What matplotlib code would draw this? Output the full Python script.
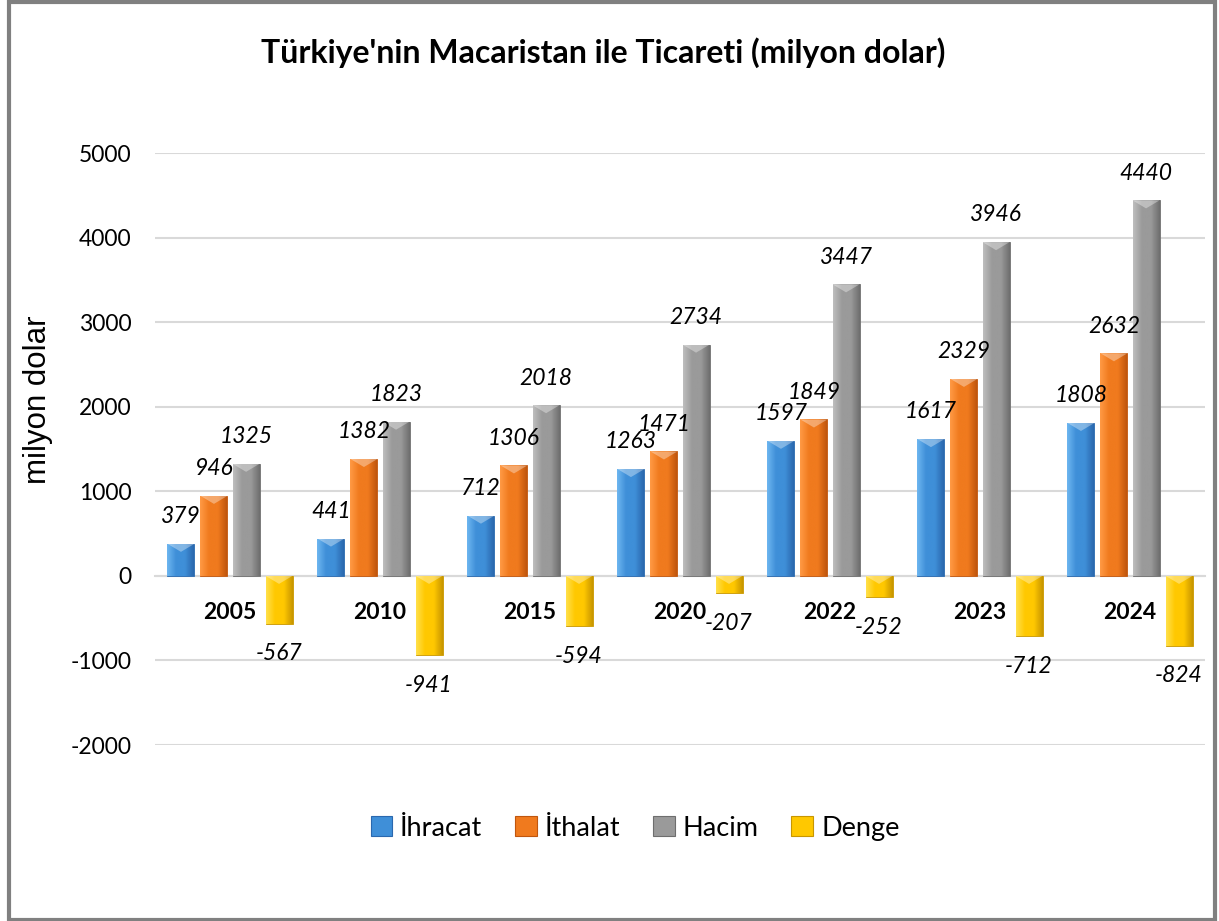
import numpy as np
import matplotlib.pyplot as plt
from matplotlib.colors import LinearSegmentedColormap
from matplotlib.patches import Polygon, Rectangle

# ─── Dados ───────────────────────────────────────────────────────────────────

yillar  = ['2005', '2010', '2015', '2020', '2022', '2023', '2024']
ihracat = [379, 441, 712, 1263, 1597, 1617, 1808]
ithalat = [946, 1382, 1306, 1471, 1849, 2329, 2632]
hacim   = [1325, 1823, 2018, 2734, 3447, 3946, 4440]
denge   = [-567, -941, -594, -207, -252, -712, -824]

seriler = ['İhracat', 'İthalat', 'Hacim', 'Denge']
# (açık, orta, koyu)
renkler = [('#6DB6F0', '#3F8FD8', '#2A68AE'),
           ('#FF9A45', '#F07A1E', '#C0560E'),
           ('#BEBEBE', '#9A9A9A', '#6E6E6E'),
           ('#FFE04A', '#FFC800', '#C89600')]

plt.rcParams['font.family'] = ['Lato', 'DejaVu Sans']
plt.rcParams['axes.unicode_minus'] = False

fig = plt.figure(figsize=(12.19, 9.21), dpi=100)
ax = fig.add_axes([155 / 1219, 1 - 745 / 921, 1050 / 1219, 592 / 921])

x = np.arange(len(yillar))
genislik = 0.18
ofsetler = [-0.327, -0.107, 0.107, 0.327]


def bevel_bar(ax, xc, h, renk):
    acik, orta, koyu = renk
    bar = ax.bar(xc, h, genislik, color=orta, edgecolor=koyu, linewidth=0.6, zorder=3)[0]
    cmap = LinearSegmentedColormap.from_list('g', [acik, orta, orta, koyu])
    grad = np.linspace(0, 1, 64).reshape(1, -1)
    im = ax.imshow(grad, extent=[xc - genislik / 2, xc + genislik / 2, min(0, h), max(0, h)],
                   aspect='auto', cmap=cmap, zorder=3.1)
    im.set_clip_path(bar)
    # üstteki açık renkli eğim (bevel)
    ust = max(0, h)
    d = min(95, abs(h))
    tri = Polygon([(xc - genislik / 2, ust), (xc + genislik / 2, ust), (xc, ust - d)],
                  closed=True, facecolor='white', alpha=0.35, edgecolor='none', zorder=3.2)
    ax.add_patch(tri)


for s, veri in enumerate([ihracat, ithalat, hacim, denge]):
    for i, v in enumerate(veri):
        xc = x[i] + ofsetler[s]
        bevel_bar(ax, xc, v, renkler[s])
        if v >= 0:
            ax.annotate(str(v), (xc, v), xytext=(0, 12), textcoords='offset points',
                        ha='center', va='bottom', fontsize=16.5, style='italic', zorder=5)
        else:
            ax.annotate(str(v), (xc, v), xytext=(0, -14), textcoords='offset points',
                        ha='center', va='top', fontsize=16.5, style='italic', zorder=5)

ax.set_xlim(-0.5, len(yillar) - 0.5)
ax.set_ylim(-2000, 5000)
ax.set_yticks(np.arange(-2000, 5001, 1000))
ax.yaxis.grid(True, color='#D9D9D9', linewidth=1.5, zorder=0)
ax.set_axisbelow(True)

ax.spines['bottom'].set_position(('data', 0))
ax.spines['bottom'].set_color('#D9D9D9')
ax.spines['bottom'].set_linewidth(1.5)
for k in ['top', 'right', 'left']:
    ax.spines[k].set_visible(False)
ax.set_xticks(x)
ax.set_xticklabels(yillar, fontsize=16.5, fontweight='bold')
ax.tick_params(axis='x', length=0, pad=19)
ax.tick_params(axis='y', length=0, pad=17, labelsize=16.5)

fig.text(38 / 1219, 1 - 400 / 921, 'milyon dolar', rotation=90, ha='center', va='center',
         fontsize=22.5, family='Liberation Sans')
fig.text(603 / 1219, 1 - 53 / 921, "Türkiye'nin Macaristan ile Ticareti (milyon dolar)",
         ha='center', va='center', fontsize=23, fontweight='bold')

handles = [Rectangle((0, 0), 1, 1, facecolor=r[1], edgecolor=r[2], linewidth=0.8) for r in renkler]
fig.legend(handles, seriler, loc='center', bbox_to_anchor=(635 / 1219, 1 - 828 / 921),
           ncol=4, frameon=False, fontsize=19.5, handlelength=0.8, handleheight=0.8,
           handletextpad=0.3, columnspacing=1.2)

# çerçeve
fig.patches.append(Rectangle((9 / 1219, 1 / 921), 1206 / 1219, 918 / 921, transform=fig.transFigure,
                             fill=False, edgecolor='#808080', linewidth=3))

plt.savefig('out.png', dpi=100)
